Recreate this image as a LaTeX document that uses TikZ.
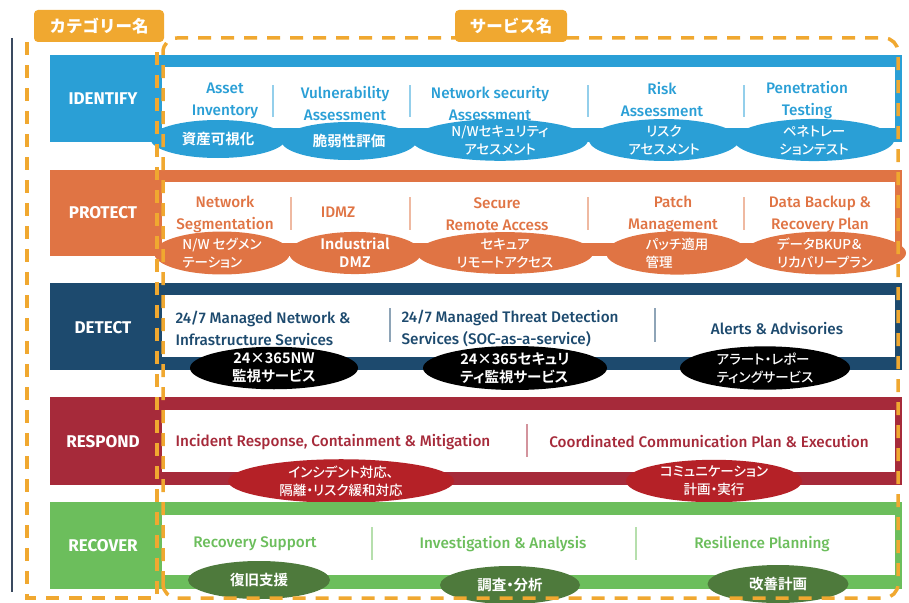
\documentclass[tikz,border=0pt]{standalone}
\usepackage{fontspec}
\IfFontExistsTF{Fira Sans Medium}{\setmainfont{Fira Sans Medium}[BoldFont=Fira Sans Bold]}{\setmainfont{Fira Sans}}
\IfFontExistsTF{Noto Sans CJK JP Medium}
  {\newfontfamily\jp[RawFeature=+palt, BoldFont=Noto Sans CJK JP Bold]{Noto Sans CJK JP Medium}}
  {\newfontfamily\jp[RawFeature=+palt]{Noto Sans CJK JP}}
\newfontfamily\jptab{Noto Sans CJK JP}
\usepackage{tikz}
\usetikzlibrary{shapes.geometric}
\usepackage{xcolor}
\definecolor{azul}{HTML}{2A9FD6}
\definecolor{laranja}{HTML}{E07444}
\definecolor{marinho}{HTML}{1D4A6E}
\definecolor{vinho}{HTML}{A62A3A}
\definecolor{verde}{HTML}{6CBE5C}
\definecolor{vermelho}{HTML}{B52127}
\definecolor{verdeesc}{HTML}{4E7A3C}
\definecolor{ouro}{HTML}{F0A830}
\definecolor{ardosia}{HTML}{3A4A60}

\begin{document}
\begin{tikzpicture}[x=1pt, y=-1pt,
    rotulo/.style={text=white, font=\fontsize{17}{20}\selectfont\bfseries},
    servico/.style={align=center, font=\fontsize{15.3}{22}\selectfont},
    bolha/.style={ellipse, inner sep=0pt, text=white, align=center, minimum height=38, font=\jp\fontsize{13.5}{18}\selectfont},
    forte/.style={font=\jp\bfseries\fontsize{14.5}{18}\selectfont},
    divisor/.style={line width=1.5pt},
    tracejado/.style={draw=ouro, line width=3.5pt, dash pattern=on 13pt off 10pt},
    aba/.style={fill=ouro, rounded corners=4pt, text=white, font=\jptab\bfseries\fontsize{16.5}{18}\selectfont}]
    \useasboundingbox (0,0) rectangle (909,602);
    % Linha lateral
    \draw[ardosia, line width=2.5pt] (12,38) -- (12,592);

    % IDENTIFY
    \fill[azul] (50,55) rectangle (902,142);
    \fill[white] (162,67) rectangle (895,128);
    \node[rotulo] (identify) at (103,99) {IDENTIFY};
    \node[servico, text=azul] (asset) at (225,101) {Asset\\Inventory};
    \node[servico, text=azul] (vuln) at (345,104) {Vulnerability\\Assessment};
    \node[servico, text=azul] (netsec) at (490,104) {Network security\\Assessment};
    \node[servico, text=azul] (risk) at (662,100) {Risk\\Assessment};
    \node[servico, text=azul] (pentest) at (807,100) {Penetration\\Testing};
    \draw[divisor, azul!50] (273,85) -- (273,117);
    \draw[divisor, azul!50] (410,85) -- (410,117);
    \draw[divisor, azul!50] (588,85) -- (588,117);
    \draw[divisor, azul!50] (744,85) -- (744,117);
    \node[bolha, forte, fill=azul, minimum width=135] (asset-jp) at (218,139) {資産可視化};
    \node[bolha, forte, fill=azul, minimum width=135] (vuln-jp) at (349,141) {脆弱性評価};
    \node[bolha, fill=azul, minimum width=176] (netsec-jp) at (500,140) {N/Wセキュリティ\\アセスメント};
    \node[bolha, fill=azul, minimum width=150] (risk-jp) at (664,140) {リスク\\アセスメント};
    \node[bolha, fill=azul, minimum width=160] (pentest-jp) at (814,140) {ペネトレー\\ションテスト};

    % PROTECT
    \fill[laranja] (50,170) rectangle (902,256);
    \fill[white] (162,182) rectangle (895,243);
    \node[rotulo] (protect) at (103,213) {PROTECT};
    \node[servico, text=laranja] (netseg) at (225,214) {Network\\Segmentation};
    \node[servico, text=laranja] (idmz) at (338,212) {IDMZ};
    \node[servico, text=laranja] (remote) at (497,214) {Secure\\Remote Access};
    \node[servico, text=laranja] (patch) at (673,214) {Patch\\Management};
    \node[servico, text=laranja] (backup) at (820,214) {Data Backup \&\\Recovery Plan};
    \draw[divisor, laranja!50] (291,197) -- (291,230);
    \draw[divisor, laranja!50] (410,197) -- (410,230);
    \draw[divisor, laranja!50] (588,197) -- (588,230);
    \draw[divisor, laranja!50] (744,197) -- (744,230);
    \node[bolha, align=left, fill=laranja, minimum width=136, minimum height=40] (netseg-jp) at (222,253) {N/W セグメン\\テーション};
    \node[bolha, forte, fill=laranja, minimum width=132, minimum height=40] (idmz-jp) at (355,253) {Industrial\\DMZ};
    \node[bolha, fill=laranja, minimum width=176, minimum height=40] (remote-jp) at (505,253) {セキュア\\リモートアクセス};
    \node[bolha, align=left, fill=laranja, minimum width=142, minimum height=40] (patch-jp) at (677,253) {パッチ適用\\管理};
    \node[bolha, align=left, fill=laranja, minimum width=162, minimum height=40] (backup-jp) at (825,253) {データBKUP＆\\リカバリープラン};

    % DETECT
    \fill[marinho] (50,283) rectangle (902,370);
    \fill[white] (162,295) rectangle (895,357);
    \node[rotulo] (detect) at (103,328) {DETECT};
    \node[servico, align=left, text=marinho, anchor=west] (mnw) at (172,328) {24/7 Managed Network \&\\Infrastructure Services};
    \node[servico, align=left, text=marinho, anchor=west] (soc) at (398,328) {24/7 Managed Threat Detection\\Services (SOC-as-a-service)};
    \node[servico, text=marinho] (alerts) at (777,329) {Alerts \& Advisories};
    \draw[divisor, marinho!50] (390,308) -- (390,342);
    \draw[divisor, marinho!50] (655,308) -- (655,342);
    \node[bolha, forte, fill=black, minimum width=168, minimum height=40] (mnw-jp) at (274,368) {24×365NW\\監視サービス};
    \node[bolha, forte, align=left, fill=black, minimum width=184, minimum height=40] (soc-jp) at (515,368) {24×365セキュリ\\ティ監視サービス};
    \node[bolha, align=left, fill=black, minimum width=170, minimum height=40] (alerts-jp) at (765,368) {アラート・レポー\\ティングサービス};

    % RESPOND
    \fill[vinho] (50,397) rectangle (902,485);
    \fill[white] (162,410) rectangle (895,472);
    \node[rotulo] (respond) at (103,442) {RESPOND};
    \node[servico, text=vinho] (incident) at (333,442) {Incident Response, Containment \& Mitigation};
    \node[servico, text=vinho] (comm) at (709,442) {Coordinated Communication Plan \& Execution};
    \draw[divisor, vinho!50] (527,424) -- (527,457);
    \node[bolha, fill=vermelho, minimum width=226] (incident-jp) at (341,481) {インシデント対応、\\隔離・リスク緩和対応};
    \node[bolha, fill=vermelho, minimum width=176] (comm-jp) at (714,481) {コミュニケーション\\計画・実行};

    % RECOVER
    \fill[verde] (50,502) rectangle (902,589);
    \fill[white] (162,515) rectangle (895,575);
    \node[rotulo] (recover) at (103,546) {RECOVER};
    \node[servico, text=verde] (support) at (255,544) {Recovery Support};
    \node[servico, text=verde] (analysis) at (503,544) {Investigation \& Analysis};
    \node[servico, text=verde] (resil) at (762,544) {Resilience Planning};
    \draw[divisor, verde!50] (372,527) -- (372,560);
    \draw[divisor, verde!50] (636,527) -- (636,560);
    \node[bolha, forte, fill=verdeesc, minimum width=142] (support-jp) at (259,580) {復旧支援};
    \node[bolha, forte, fill=verdeesc, minimum width=140] (analysis-jp) at (510,585) {調査・分析};
    \node[bolha, forte, fill=verdeesc, minimum width=141] (resil-jp) at (778,584) {改善計画};

    % Molduras tracejadas
    \draw[tracejado] (27,42) -- (27,598) -- (157,598) -- (157,42);
    \draw[tracejado, rounded corners=14pt] (163,598) -- (163,38) -- (898,38) -- (898,598) -- cycle;
    \node[aba, minimum width=130, minimum height=32] (categoria) at (99,26) {カテゴリー名};
    \node[aba, minimum width=112, minimum height=32] (servicos) at (511,26) {サービス名};
\end{tikzpicture}
\end{document}
